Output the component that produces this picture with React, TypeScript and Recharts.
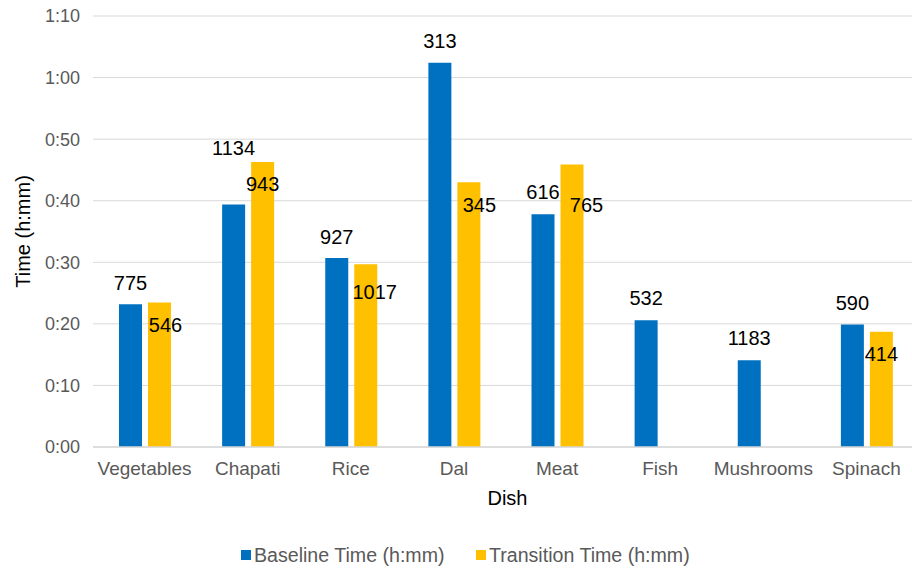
import React from 'react';
import {
  BarChart,
  Bar,
  XAxis,
  YAxis,
  CartesianGrid,
  Legend,
  LabelList,
} from 'recharts';

// Dishes on the category axis
const dishes = ['Vegetables', 'Chapati', 'Rice', 'Dal', 'Meat', 'Fish', 'Mushrooms', 'Spinach'];

// Average cooking time, in minutes
const baselineMinutes = [23.2, 39.4, 30.7, 62.4, 37.8, 20.6, 14.1, 19.9];
const transitionMinutes: (number | null)[] = [23.45, 46.3, 29.7, 43.0, 45.9, null, null, 18.7];

// Number of cooking events behind each average
const baselineCounts = [775, 1134, 927, 313, 616, 532, 1183, 590];
const transitionCounts: (number | null)[] = [546, 943, 1017, 345, 765, null, null, 414];

// Y axis ticks (minutes)
const yTicks = [0, 10, 20, 30, 40, 50, 60, 70];

const seriesNames = ['Baseline Time (h:mm)', 'Transition Time (h:mm)'];

const BLUE = '#0070C0';
const GOLD = '#FFC000';
const GRID = '#D9D9D9';
const AXIS_TEXT = '#595959';
const FONT = '"Liberation Sans", Arial, sans-serif';

// Label placement: horizontal shift from bar centre, vertical shift from bar top
const baselineLabelShift = [
  [0, -21.5], [0, -56.5], [0, -21], [0, -21.5], [0, -22], [0, -21.7], [0, -22], [0, -21.5],
];
const transitionLabelShift = [
  [6, 22.5], [0, 22.3], [9, 28], [10.5, 22.5], [14.5, 41], [0, 22], [0, 22], [9.5, 24.5],
];

// Legend entries start at these offsets from the legend's left edge
const legendItemLeft = [0, 235];

const rows = dishes.map((dish, i) => ({
  dish,
  baseline: baselineMinutes[i],
  transition: transitionMinutes[i],
  baselineCount: baselineCounts[i],
  transitionCount: transitionCounts[i],
}));

const fmtTime = (m: number) => `${Math.floor(m / 60)}:${String(Math.round(m % 60)).padStart(2, '0')}`;

const makeCountLabel = (shift: number[][]) => (props: any) => {
  const { x, y, width, index, value } = props;
  if (value === null || value === undefined) return null;
  const [dx, dy] = shift[index] || [0, 0];
  return (
    <text
      x={Number(x) + Number(width) / 2 + dx}
      y={Number(y) + dy}
      textAnchor="middle"
      dominantBaseline="central"
      fill="#000000"
      fontSize={20}
      fontFamily={FONT}
    >
      {value}
    </text>
  );
};

const YTitle = (props: any) => {
  const { viewBox } = props;
  const cy = viewBox.y + viewBox.height / 2;
  const cx = 23;
  return (
    <text
      x={cx}
      y={cy}
      transform={`rotate(-90 ${cx} ${cy})`}
      textAnchor="middle"
      dominantBaseline="central"
      fill="#000000"
      fontSize={20}
      fontFamily={FONT}
    >
      Time (h:mm)
    </text>
  );
};

const XTitle = (props: any) => {
  const { viewBox } = props;
  return (
    <text
      x={viewBox.x + viewBox.width / 2 + 2}
      y={viewBox.y + 51}
      textAnchor="middle"
      dominantBaseline="central"
      fill="#000000"
      fontSize={20}
      fontFamily={FONT}
    >
      Dish
    </text>
  );
};

const LegendBox = () => (
  <div
    style={{
      position: 'relative',
      width: 460,
      height: 20,
      lineHeight: '20px',
      fontFamily: FONT,
      fontSize: 19.6,
      color: AXIS_TEXT,
      whiteSpace: 'nowrap',
    }}
  >
    {seriesNames.map((name, i) => (
      <div
        key={name}
        style={{
          position: 'absolute',
          left: legendItemLeft[i],
          top: 0,
          display: 'flex',
          alignItems: 'center',
          height: 20,
        }}
      >
        <span
          style={{
            display: 'inline-block',
            width: 10,
            height: 10,
            background: i === 0 ? BLUE : GOLD,
            marginRight: 3,
          }}
        />
        <span>{name}</span>
      </div>
    ))}
  </div>
);

export default function App() {
  return (
    <div
      style={{
        position: 'absolute',
        left: 0,
        top: 0,
        width: 912,
        height: 568,
        overflow: 'hidden',
        background: '#ffffff',
      }}
    >
      <BarChart
        width={918}
        height={568}
        data={rows}
        margin={{ top: 16, right: 0, left: 0, bottom: 39 }}
        barGap={6}
        barSize={23}
      >
        <CartesianGrid horizontal vertical={false} stroke={GRID} strokeWidth={1} />
        <XAxis
          dataKey="dish"
          height={62}
          axisLine={{ stroke: GRID, strokeWidth: 1.5 }}
          tickLine={false}
          tickSize={0}
          tickMargin={15}
          interval={0}
          tick={{ fill: AXIS_TEXT, fontSize: 19, fontFamily: FONT }}
          label={<XTitle />}
        />
        <YAxis
          width={93}
          domain={[0, 70]}
          ticks={yTicks}
          allowDataOverflow
          axisLine={false}
          tickLine={false}
          tickSize={0}
          tickMargin={13}
          tickFormatter={fmtTime}
          tick={{ fill: AXIS_TEXT, fontSize: 18, fontFamily: FONT }}
          label={<YTitle />}
        />
        <Legend
          verticalAlign="bottom"
          content={<LegendBox />}
          wrapperStyle={{ position: 'absolute', left: 241, top: 545, bottom: 'auto', width: 460, height: 20 }}
        />
        <Bar dataKey="baseline" name={seriesNames[0]} fill={BLUE} isAnimationActive={false}>
          <LabelList dataKey="baselineCount" content={makeCountLabel(baselineLabelShift)} />
        </Bar>
        <Bar dataKey="transition" name={seriesNames[1]} fill={GOLD} isAnimationActive={false}>
          <LabelList dataKey="transitionCount" content={makeCountLabel(transitionLabelShift)} />
        </Bar>
      </BarChart>
    </div>
  );
}
